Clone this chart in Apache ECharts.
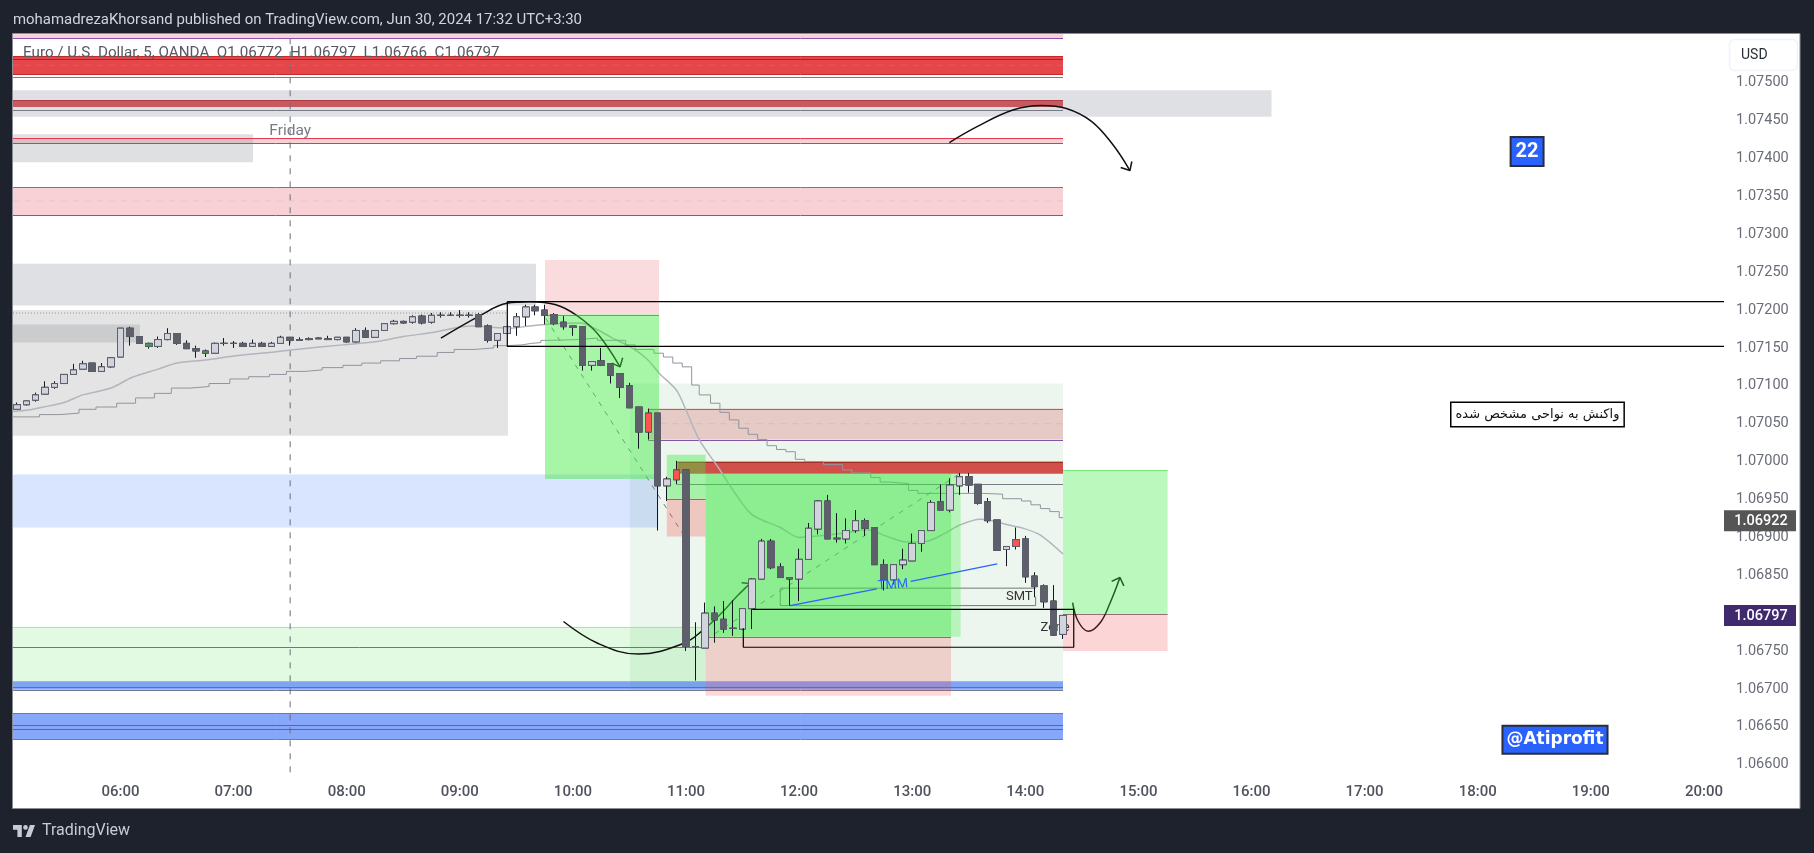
<!DOCTYPE html>
<html>
<head>
<meta charset="utf-8">
<title>EURUSD 5m</title>
<script src="https://cdn.jsdelivr.net/npm/echarts@6/dist/echarts.min.js"></script>
<style>
  html, body { margin: 0; padding: 0; background: #1e222d; }
  #main { width: 1814px; height: 853px; }
</style>
</head>
<body>
<div id="main"></div>
<script>
// x axis is minutes since midnight, y axis is price
const xMin = 302.97
const xMax = 1210.66
const yMin = 1.065825
const yMax = 1.075642
const lastBar = 860 // 14:20, right end of most zones

const hourLabels = ['06:00', '07:00', '08:00', '09:00', '10:00', '11:00', '12:00', '13:00', '14:00', '15:00', '16:00', '17:00', '18:00', '19:00', '20:00']
const priceTicks = [1.066, 1.0665, 1.067, 1.0675, 1.068, 1.0685, 1.069, 1.0695, 1.07, 1.0705, 1.071, 1.0715, 1.072, 1.0725, 1.073, 1.0735, 1.074, 1.0745, 1.075]

// 5 minute bars from 05:05 to 14:20
const firstBar = 305
const open = [
  1.07069, 1.07075, 1.07081, 1.07089, 1.07098, 1.07103, 1.07115, 1.07122, 1.07130, 1.07119,
  1.07125, 1.07138, 1.07176, 1.07165, 1.07156, 1.07152, 1.07161, 1.07169, 1.07156, 1.07149,
  1.07146, 1.07143, 1.07156, 1.07156, 1.07156, 1.07152, 1.07156, 1.07152, 1.07156, 1.07164,
  1.07161, 1.07162, 1.07163, 1.07162, 1.07161, 1.07164, 1.07158, 1.07173, 1.07164, 1.07173,
  1.07182, 1.07185, 1.07184, 1.07192, 1.07184, 1.07193, 1.07193, 1.07193, 1.07193, 1.07194,
  1.07179, 1.07160, 1.07169, 1.07178, 1.07191, 1.07204, 1.07200, 1.07194, 1.07184, 1.07179,
  1.07178, 1.07127, 1.07133, 1.07129, 1.07116, 1.07100, 1.07072, 1.07039, 1.07064, 1.06968,
  1.06976, 1.06989, 1.06756, 1.06754, 1.06800, 1.06792, 1.06780, 1.06779, 1.06806, 1.06845,
  1.06895, 1.06861, 1.06847, 1.06845, 1.06871, 1.06911, 1.06948, 1.06899, 1.06898, 1.06909,
  1.06922, 1.06913, 1.06864, 1.06844, 1.06864, 1.06869, 1.06892, 1.06909, 1.06947, 1.06936,
  1.06968, 1.06980, 1.06970, 1.06947, 1.06923, 1.06884, 1.06888, 1.06898, 1.06849, 1.06836,
  1.06816, 1.06772
]
const close = [
  1.07075, 1.07080, 1.07088, 1.07098, 1.07103, 1.07115, 1.07121, 1.07129, 1.07119, 1.07125,
  1.07137, 1.07176, 1.07165, 1.07156, 1.07152, 1.07161, 1.07169, 1.07156, 1.07149, 1.07146,
  1.07143, 1.07156, 1.07156, 1.07156, 1.07152, 1.07156, 1.07152, 1.07156, 1.07164, 1.07160,
  1.07160, 1.07161, 1.07162, 1.07161, 1.07164, 1.07158, 1.07173, 1.07164, 1.07173, 1.07182,
  1.07185, 1.07183, 1.07191, 1.07183, 1.07193, 1.07193, 1.07193, 1.07193, 1.07193, 1.07178,
  1.07160, 1.07169, 1.07178, 1.07191, 1.07204, 1.07199, 1.07193, 1.07182, 1.07178, 1.07177,
  1.07127, 1.07132, 1.07127, 1.07114, 1.07098, 1.07071, 1.07039, 1.07064, 1.06968, 1.06977,
  1.06989, 1.06756, 1.06756, 1.06800, 1.06791, 1.06779, 1.06780, 1.06806, 1.06845, 1.06895,
  1.06860, 1.06847, 1.06845, 1.06871, 1.06912, 1.06948, 1.06898, 1.06898, 1.06909, 1.06922,
  1.06912, 1.06864, 1.06844, 1.06864, 1.06870, 1.06892, 1.06909, 1.06946, 1.06936, 1.06969,
  1.06980, 1.06969, 1.06945, 1.06922, 1.06883, 1.06888, 1.06897, 1.06848, 1.06835, 1.06815,
  1.06771, 1.06797
]
const low = [
  1.07069, 1.07074, 1.07079, 1.07089, 1.07096, 1.07103, 1.07115, 1.07122, 1.07119, 1.07119,
  1.07124, 1.07138, 1.07153, 1.07156, 1.07149, 1.07150, 1.07160, 1.07154, 1.07149, 1.07137,
  1.07138, 1.07143, 1.07153, 1.07150, 1.07152, 1.07152, 1.07152, 1.07152, 1.07156, 1.07153,
  1.07160, 1.07160, 1.07162, 1.07161, 1.07160, 1.07157, 1.07157, 1.07163, 1.07164, 1.07173,
  1.07181, 1.07182, 1.07182, 1.07181, 1.07182, 1.07190, 1.07192, 1.07190, 1.07190, 1.07178,
  1.07157, 1.07150, 1.07169, 1.07166, 1.07179, 1.07193, 1.07181, 1.07180, 1.07174, 1.07166,
  1.07120, 1.07120, 1.07126, 1.07103, 1.07084, 1.07071, 1.07017, 1.07029, 1.06909, 1.06948,
  1.06970, 1.06750, 1.06711, 1.06754, 1.06761, 1.06774, 1.06770, 1.06779, 1.06779, 1.06845,
  1.06858, 1.06847, 1.06810, 1.06816, 1.06871, 1.06904, 1.06898, 1.06893, 1.06892, 1.06906,
  1.06902, 1.06864, 1.06830, 1.06838, 1.06858, 1.06869, 1.06881, 1.06909, 1.06936, 1.06933,
  1.06956, 1.06959, 1.06943, 1.06919, 1.06882, 1.06862, 1.06884, 1.06840, 1.06821, 1.06807,
  1.06770, 1.06766
]
const high = [
  1.07078, 1.07080, 1.07091, 1.07106, 1.07106, 1.07115, 1.07129, 1.07133, 1.07130, 1.07130,
  1.07137, 1.07176, 1.07178, 1.07165, 1.07157, 1.07165, 1.07176, 1.07169, 1.07160, 1.07153,
  1.07148, 1.07157, 1.07163, 1.07159, 1.07158, 1.07161, 1.07158, 1.07158, 1.07166, 1.07164,
  1.07164, 1.07164, 1.07164, 1.07166, 1.07164, 1.07164, 1.07176, 1.07177, 1.07173, 1.07182,
  1.07187, 1.07186, 1.07193, 1.07194, 1.07196, 1.07197, 1.07197, 1.07200, 1.07197, 1.07196,
  1.07181, 1.07169, 1.07178, 1.07196, 1.07207, 1.07207, 1.07207, 1.07196, 1.07192, 1.07179,
  1.07178, 1.07132, 1.07150, 1.07129, 1.07116, 1.07104, 1.07072, 1.07070, 1.07064, 1.06980,
  1.07001, 1.06989, 1.06788, 1.06814, 1.06809, 1.06816, 1.06817, 1.06806, 1.06846, 1.06898,
  1.06898, 1.06866, 1.06847, 1.06885, 1.06919, 1.06949, 1.06956, 1.06932, 1.06925, 1.06936,
  1.06925, 1.06913, 1.06871, 1.06864, 1.06885, 1.06905, 1.06909, 1.06949, 1.06970, 1.06978,
  1.06985, 1.06985, 1.06970, 1.06952, 1.06923, 1.06888, 1.06913, 1.06902, 1.06854, 1.06838,
  1.06837, 1.06797
]
const redBars = [67, 70, 106]
const greenBars = [14, 20, 82]

// moving averages: [minutes, price]
const fastMa = [
  [303, 1.07066], [311, 1.07068], [319, 1.07072], [330, 1.07078], [340, 1.07088], [355, 1.07097], [366, 1.07111],
  [380, 1.07122], [390, 1.07130], [405, 1.07134], [422, 1.07140], [439, 1.07144], [453, 1.07148], [478, 1.07154],
  [495, 1.07158], [510, 1.07165], [527, 1.07171], [541, 1.07178], [548, 1.07179], [558, 1.07177], [567, 1.07176],
  [577, 1.07179], [590, 1.07182], [604, 1.07183], [613, 1.07174], [621, 1.07163], [630, 1.07152], [639, 1.07136],
  [646, 1.07116], [655, 1.07094], [660, 1.07068], [667, 1.07029], [678, 1.06989], [685, 1.06962], [695, 1.06930],
  [710, 1.06913], [720, 1.06900], [731, 1.06902], [745, 1.06906], [756, 1.06910], [767, 1.06901], [777, 1.06894],
  [788, 1.06895], [797, 1.06905], [805, 1.06916], [816, 1.06924], [821, 1.06923], [830, 1.06917], [839, 1.06912],
  [848, 1.06903], [860, 1.06878]
]
const slowMa = [
  [303, 1.07059], [317, 1.07062], [328, 1.07064], [338, 1.07069], [347, 1.07072], [358, 1.07077], [368, 1.07084],
  [378, 1.07090], [387, 1.07097], [397, 1.07099], [407, 1.07103], [418, 1.07109], [428, 1.07112], [439, 1.07115],
  [448, 1.07119], [458, 1.07121], [467, 1.07124], [478, 1.07127], [488, 1.07130], [498, 1.07133], [508, 1.07136],
  [517, 1.07139], [528, 1.07144], [537, 1.07148], [548, 1.07150], [558, 1.07153], [565, 1.07154], [573, 1.07156],
  [578, 1.07157], [583, 1.07160], [588, 1.07161], [603, 1.07163], [613, 1.07160], [628, 1.07154], [633, 1.07148],
  [643, 1.07143], [648, 1.07138], [653, 1.07130], [658, 1.07125], [663, 1.07101], [667, 1.07088], [673, 1.07077],
  [678, 1.07065], [683, 1.07055], [688, 1.07044], [693, 1.07036], [698, 1.07029], [703, 1.07021], [708, 1.07016],
  [713, 1.07013], [718, 1.07003], [723, 1.07000], [733, 1.06996], [743, 1.06989], [748, 1.06985], [758, 1.06979],
  [763, 1.06973], [768, 1.06971], [778, 1.06962], [783, 1.06958], [818, 1.06957], [828, 1.06951], [838, 1.06948],
  [843, 1.06943], [848, 1.06938], [853, 1.06934], [858, 1.06926], [860, 1.06926]
]

// hand drawn curves and their arrow heads
const arcTop = [[530, 1.07163], [551, 1.07193], [565, 1.07209], [577, 1.07211], [591, 1.07207], [602, 1.07193], [613, 1.07169], [625, 1.07125]]
const arcTopHead = [[626.4, 1.07137], [625, 1.07125], [620.6, 1.07130]]
const arcBottom = [[595, 1.06789], [613.4, 1.06760], [634.7, 1.06746], [658.6, 1.06760], [669.2, 1.06778], [678, 1.06798], [686.9, 1.06822], [693.9, 1.06839]]
const arcBottomHead = [[689.5, 1.06840], [693.9, 1.06839]]
const arcUpper = [[799.7, 1.07421], [814.4, 1.07442], [833.4, 1.07464], [848.5, 1.07470], [861.8, 1.07466], [875.1, 1.07449], [886.5, 1.07418], [895.5, 1.07384]]
const arcUpperHead = [[890.6, 1.07388], [895.5, 1.07384], [896.5, 1.07396]]
const arcRight = [[865.1, 1.06814], [868.1, 1.06789], [873.4, 1.06776], [879.6, 1.06787], [884.9, 1.06813], [890.2, 1.06847]]
const arcRightHead = [[885.8, 1.06842], [890.2, 1.06847], [892.3, 1.06836]]
const dashDown = [[585.6, 1.07189], [659.5, 1.06900]]
const dashUp = [[670.4, 1.06765], [805.7, 1.06985]]
const blueLeg1 = [[715.2, 1.06810], [761.2, 1.06832]]
const blueLeg2 = [[779.2, 1.06842], [825.1, 1.06865]]
const smtBox = [[845.5, 1.06833], [710, 1.06833], [710, 1.06810], [845.5, 1.06810], [845.5, 1.06822]]
const entryBox = [[695.2, 1.06805], [865.7, 1.06805], [865.7, 1.06755], [690.4, 1.06755], [690.4, 1.06780]]
const rangeBox = [[xMax, 1.07211], [565.2, 1.07211], [565.2, 1.07152], [xMax, 1.07152]]
const sessionLine = [[450, 1.06590], [450, yMax]]
const dottedLine = [[xMin, 1.07196], [565.6, 1.07196]]
const midRed = [[xMin, 1.07523], [lastBar, 1.07523]]
const midPink = [[xMin, 1.07344], [lastBar, 1.07344]]
const midBrown = [[640, 1.07050], [lastBar, 1.07050]]

// zones: [from, to, top price, bottom price]
const baseZones = [
  [xMin, lastBar, 1.07564, 1.07559],
  [xMin, lastBar, 1.07535, 1.07511],
  [xMin, 970.6, 1.07490, 1.07455],
  [xMin, lastBar, 1.07477, 1.07468],
  [xMin, lastBar, 1.07427, 1.07420],
  [xMin, 430.3, 1.07432, 1.07395],
  [xMin, lastBar, 1.07362, 1.07325],
  [xMin, 580.4, 1.07261, 1.07206],
  [xMin, 565.6, 1.07200, 1.07034],
  [xMin, 370.3, 1.07181, 1.07157],
  [585.2, 645.7, 1.07266, 1.07194],
  [630.3, lastBar, 1.07103, 1.06699],
  [xMin, 645.3, 1.06983, 1.06913],
  [xMin, 670.4, 1.06782, 1.06703],
  [xMin, lastBar, 1.06710, 1.06699],
  [xMin, lastBar, 1.06668, 1.06634],
  [640, lastBar, 1.07070, 1.07029],
  [655.4, lastBar, 1.07000, 1.06984]
]
const baseColors = [
  '#f7d1d6', '#e44649', '#dfe0e4', '#c75a5e', '#f7d1d6', 'rgba(150,152,160,0.3)', '#f7d1d6', '#dfe0e4', '#e4e4e4', '#cbccce',
  'rgba(230,80,90,0.2)', '#ecf6ee', 'rgba(80,130,250,0.22)', 'rgba(90,230,90,0.18)', 'rgba(70,120,250,0.65)', '#87a7fb',
  'rgba(205,30,35,0.2)', 'rgba(205,50,45,0.85)'
]
const overlayZones = [
  [585.2, 645.7, 1.07194, 1.06977],
  [649.8, 670.4, 1.07009, 1.06951],
  [649.8, 670.4, 1.06951, 1.06901],
  [670.4, 805.7, 1.06984, 1.06769],
  [670.4, 800.6, 1.06984, 1.06769],
  [670.4, 800.6, 1.06769, 1.06691],
  [lastBar, 915.5, 1.06989, 1.06799],
  [lastBar, 915.5, 1.06799, 1.06750]
]
const overlayColors = [
  'rgba(60,235,60,0.45)', 'rgba(60,235,60,0.4)', 'rgba(245,60,60,0.25)', 'rgba(60,235,70,0.3)', 'rgba(60,230,70,0.35)',
  'rgba(245,60,60,0.2)', 'rgba(60,235,70,0.35)', 'rgba(240,70,70,0.22)'
]

// horizontal borders: [from, to, price]
const levels = [
  [xMin, lastBar, 1.07559], [xMin, lastBar, 1.07535], [xMin, lastBar, 1.07531], [xMin, lastBar, 1.07511], [xMin, lastBar, 1.07507],
  [xMin, lastBar, 1.07477], [xMin, lastBar, 1.07464], [xMin, lastBar, 1.07427], [xMin, lastBar, 1.07420],
  [xMin, lastBar, 1.07362], [xMin, lastBar, 1.07325], [585.2, 645.7, 1.07194],
  [640, lastBar, 1.07070], [640, lastBar, 1.07029], [655.4, lastBar, 1.07000], [655.4, lastBar, 1.06970],
  [649.8, 670.4, 1.06951], [670.4, 800.6, 1.06769], [xMin, 670.4, 1.06782], [xMin, 670.4, 1.06756],
  [xMin, lastBar, 1.06703], [xMin, lastBar, 1.06699], [xMin, lastBar, 1.06668], [xMin, lastBar, 1.06653],
  [xMin, lastBar, 1.06647], [xMin, lastBar, 1.06634], [lastBar, 915.5, 1.06989], [lastBar, 915.5, 1.06799]
]
const levelColors = [
  '#8e4fb0', '#c62828', '#b71c1c', '#c62828', '#787b86',
  '#b23a48', '#787b86', '#e8394d', '#7e57a8',
  '#e04a5a', '#7e57a8', '#787b86',
  '#d9505c', '#7e57a8', '#a52a20', '#787b86',
  '#787b86', '#787b86', '#c8cdc8', '#6b7d70',
  '#4a6fd8', '#787b86', '#787b86', '#4a64cf',
  '#4a64cf', '#787b86', '#8fe896', '#787b86'
]

const priceTags = [1.06922, 1.06797]
const tagColors = ['#555555', '#3f2a6e']

// text notes: minutes, price, text
const noteTimes = [1106.2, 1121, 1111.7, 836.8, 769.8, 450]
const notePrices = [1.07409, 1.06633, 1.07062, 1.06822, 1.06837, 1.07436]
const noteTexts = ['22', '@Atiprofit', 'واکنش به نواحی مشخص شده', 'SMT', 'TMM', 'Friday']
const noteStyles = [
  { color: '#fff', fontWeight: 'bold', fontSize: 20, fontFamily: 'Roboto', backgroundColor: '#2962ff', borderColor: '#2a2e39', borderWidth: 2, padding: [4, 4, 3, 4] },
  { color: '#fff', fontWeight: 'bold', fontSize: 17, fontFamily: 'DejaVu Sans', backgroundColor: '#2962ff', borderColor: '#2a2e39', borderWidth: 2, padding: [5, 3, 4, 3] },
  { color: '#111', fontSize: 13, fontFamily: 'DejaVu Sans', backgroundColor: '#fff', borderColor: '#000', borderWidth: 1.5, padding: [5, 4, 5, 4] },
  { color: '#333', fontSize: 13, fontFamily: 'Roboto' },
  { color: '#2962ff', fontSize: 13, fontFamily: 'Roboto', rotate: 4 },
  { color: '#787b86', fontSize: 15.5, fontFamily: 'Roboto' }
]

const fontUi = 'Roboto'
const toMinutes = s => +s.slice(0, 2) * 60 + +s.slice(3)
const toClock = m => String(Math.floor(m / 60)).padStart(2, '0') + ':' + String(m % 60).padStart(2, '0')

const wickData = open.map((o, i) => [firstBar + i * 5, o, close[i], low[i], high[i]])
const bodyData = open.map((o, i) => {
  const value = [firstBar + i * 5, o, close[i], Math.min(o, close[i]), Math.max(o, close[i])]
  if (redBars.includes(i)) return { value, itemStyle: { color: '#ff5252', color0: '#ff5252' } }
  if (greenBars.includes(i)) return { value, itemStyle: { color: '#43a047', color0: '#43a047' } }
  return { value }
})

function zoneSeries(name, zones, colors, z) {
  return {
    name,
    type: 'custom',
    z,
    silent: true,
    clip: true,
    encode: { x: [0, 1], y: [2, 3] },
    data: zones,
    renderItem: (params, api) => {
      const a = api.coord([api.value(0), api.value(2)])
      const b = api.coord([api.value(1), api.value(3)])
      return {
        type: 'rect',
        shape: { x: a[0], y: a[1], width: b[0] - a[0], height: b[1] - a[1] },
        style: { fill: colors[params.dataIndex] }
      }
    }
  }
}

function levelSeries(name, rows, colors, z) {
  return {
    name,
    type: 'custom',
    z,
    silent: true,
    clip: true,
    encode: { x: [0, 1], y: 2 },
    data: rows,
    renderItem: (params, api) => {
      const a = api.coord([api.value(0), api.value(2)])
      const b = api.coord([api.value(1), api.value(2)])
      const y = Math.round(a[1]) + 0.5
      return {
        type: 'line',
        shape: { x1: a[0], y1: y, x2: b[0], y2: y },
        style: { stroke: colors[params.dataIndex], lineWidth: 1 }
      }
    }
  }
}

function pathSeries(name, data, color, width, z, extra) {
  const opts = extra || {}
  return {
    name,
    type: 'line',
    data,
    z,
    silent: true,
    showSymbol: false,
    symbol: 'none',
    smooth: opts.smooth || false,
    step: opts.step || false,
    lineStyle: { color, width, type: opts.lineType || 'solid' }
  }
}

const noteSeries = {
  name: 'notes',
  type: 'scatter',
  z: 7,
  silent: true,
  symbolSize: 1,
  itemStyle: { color: 'transparent', opacity: 1 },
  data: noteTimes.map((t, i) => ({
    value: [t, notePrices[i]],
    label: Object.assign({ show: true, position: 'inside', formatter: noteTexts[i] }, noteStyles[i])
  }))
}

const zoneNote = {
  name: 'zone note',
  type: 'scatter',
  z: 3,
  silent: true,
  symbolSize: 1,
  itemStyle: { color: 'transparent', opacity: 1 },
  data: [{
    value: [855.8, 1.06781],
    label: { show: true, position: 'inside', formatter: 'Zone', color: '#333', fontSize: 13, fontFamily: fontUi }
  }]
}

const tagSeries = {
  name: 'price tags',
  type: 'custom',
  z: 9,
  silent: true,
  encode: { x: 0, y: 1 },
  data: priceTags.map(p => [xMax, p]),
  renderItem: (params, api) => {
    const c = api.coord([api.value(0), api.value(1)])
    return {
      type: 'group',
      children: [
        { type: 'rect', shape: { x: c[0], y: c[1] - 10.5, width: 72, height: 21 }, style: { fill: tagColors[params.dataIndex] } },
        { type: 'text', style: { x: c[0] + 37, y: c[1] + 1, text: api.value(1).toFixed(5), fill: '#fff', font: '500 14.5px ' + fontUi, textAlign: 'center', textVerticalAlign: 'middle' } }
      ]
    }
  }
}

const chart = echarts.init(document.getElementById('main'))
chart.setOption({
  animation: false,
  backgroundColor: '#1e222d',
  grid: { left: 13, top: 34, width: 1711, height: 744 },
  xAxis: {
    type: 'value',
    min: xMin,
    max: xMax,
    axisLine: { show: false },
    axisTick: { show: false },
    splitLine: { show: false },
    axisLabel: {
      customValues: hourLabels.map(toMinutes),
      formatter: v => toClock(v),
      color: '#50535e',
      fontFamily: fontUi,
      fontWeight: 500,
      fontSize: 15,
      margin: 7
    }
  },
  yAxis: {
    type: 'value',
    position: 'right',
    min: yMin,
    max: yMax,
    axisLine: { show: false },
    axisTick: { show: false },
    splitLine: { show: false },
    axisLabel: {
      customValues: priceTicks,
      formatter: v => v.toFixed(5),
      color: '#6a6d78',
      fontFamily: fontUi,
      fontSize: 14.5,
      margin: 12,
      padding: [6, 0, 0, 0]
    }
  },
  graphic: [
    { type: 'rect', z: -10, shape: { x: 12.5, y: 33.5, width: 1787.5, height: 775 }, style: { fill: '#fff', stroke: '#8a8d96', lineWidth: 1 } },
    { type: 'text', x: 13, y: 20, style: { text: 'mohamadrezaKhorsand published on TradingView.com, Jun 30, 2024 17:32 UTC+3:30', fill: '#d1d4dc', font: '14.95px ' + fontUi, textVerticalAlign: 'middle' } },
    { type: 'text', z: 100, x: 23, y: 53, style: { text: 'Euro / U.S. Dollar, 5, OANDA  O1.06772  H1.06797  L1.06766  C1.06797', fill: '#555963', font: '15.2px ' + fontUi, textVerticalAlign: 'middle' } },
    { type: 'rect', z: 100, shape: { x: 1729.5, y: 39.5, width: 68, height: 31, r: 5 }, style: { fill: '#fff', stroke: '#f0f3fa', lineWidth: 1.5 } },
    { type: 'text', z: 101, x: 1741, y: 55, style: { text: 'USD', fill: '#2a2e39', font: '14px ' + fontUi, textVerticalAlign: 'middle' } },
    { type: 'polygon', shape: { points: [[13, 825], [21.8, 825], [21.8, 837], [17.4, 837], [17.4, 829.8], [13, 829.8]] }, style: { fill: '#c8cbd3' } },
    { type: 'polygon', shape: { points: [[30.6, 837], [25.5, 837], [29.9, 825], [35, 825]] }, style: { fill: '#c8cbd3' } },
    { type: 'circle', shape: { cx: 25.5, cy: 827.4, r: 2.3 }, style: { fill: '#c8cbd3' } },
    { type: 'text', x: 42, y: 831, style: { text: 'TradingView', fill: '#c8cbd3', font: '16px ' + fontUi, textVerticalAlign: 'middle' } }
  ],
  series: [
    zoneSeries('zones', baseZones, baseColors, 1),
    levelSeries('levels', levels, levelColors, 2),
    pathSeries('session', sessionLine, '#6a6d78', 1, 2, { lineType: [6, 7] }),
    pathSeries('dotted', dottedLine, '#9598a1', 1, 2, { lineType: [1, 2] }),
    pathSeries('mid red', midRed, 'rgba(255,255,255,0.12)', 1, 2, { lineType: [6, 6] }),
    pathSeries('mid pink', midPink, 'rgba(120,123,134,0.14)', 1, 2, { lineType: [6, 6] }),
    pathSeries('mid brown', midBrown, 'rgba(120,123,134,0.14)', 1, 2, { lineType: [6, 6] }),
    pathSeries('fast ma', fastMa, '#b2b5be', 1.5, 2, { smooth: 0.3 }),
    pathSeries('slow ma', slowMa, '#92959e', 1, 2, { step: 'end' }),
    pathSeries('dash down', dashDown, '#787b86', 1, 2, { lineType: [5, 6] }),
    pathSeries('dash up', dashUp, '#787b86', 1, 2, { lineType: [5, 6] }),
    pathSeries('arc top', arcTop, '#111', 1.5, 2, { smooth: 0.4 }),
    pathSeries('arc top head', arcTopHead, '#111', 1.5, 2),
    pathSeries('arc bottom', arcBottom, '#111', 1.5, 2, { smooth: 0.4 }),
    pathSeries('arc bottom head', arcBottomHead, '#111', 1.5, 2),
    pathSeries('arc upper', arcUpper, '#111', 1.5, 2, { smooth: 0.4 }),
    pathSeries('arc upper head', arcUpperHead, '#111', 1.5, 2),
    pathSeries('arc right', arcRight, '#111', 1.5, 2, { smooth: 0.4 }),
    pathSeries('arc right head', arcRightHead, '#111', 1.5, 2),
    pathSeries('smt box', smtBox, '#777', 1, 2),
    zoneNote,
    zoneSeries('overlays', overlayZones, overlayColors, 3),
    pathSeries('blue leg 1', blueLeg1, '#2962ff', 1.2, 5),
    pathSeries('blue leg 2', blueLeg2, '#2962ff', 1.2, 5),
    {
      name: 'wicks',
      type: 'candlestick',
      z: 4,
      silent: true,
      barWidth: 7,
      data: wickData,
      itemStyle: { color: '#d1d4dc', color0: '#5d606b', borderColor: '#131722', borderColor0: '#131722', borderWidth: 1 }
    },
    {
      name: 'bodies',
      type: 'candlestick',
      z: 4,
      silent: true,
      barWidth: 7,
      data: bodyData,
      itemStyle: { color: '#d1d4dc', color0: '#5d606b', borderColor: '#5d606b', borderColor0: '#5d606b', borderWidth: 1 }
    },
    pathSeries('range box', rangeBox, '#000', 1.2, 6),
    pathSeries('entry box', entryBox, '#000', 1.2, 6),
    noteSeries,
    tagSeries
  ]
})
</script>
</body>
</html>
